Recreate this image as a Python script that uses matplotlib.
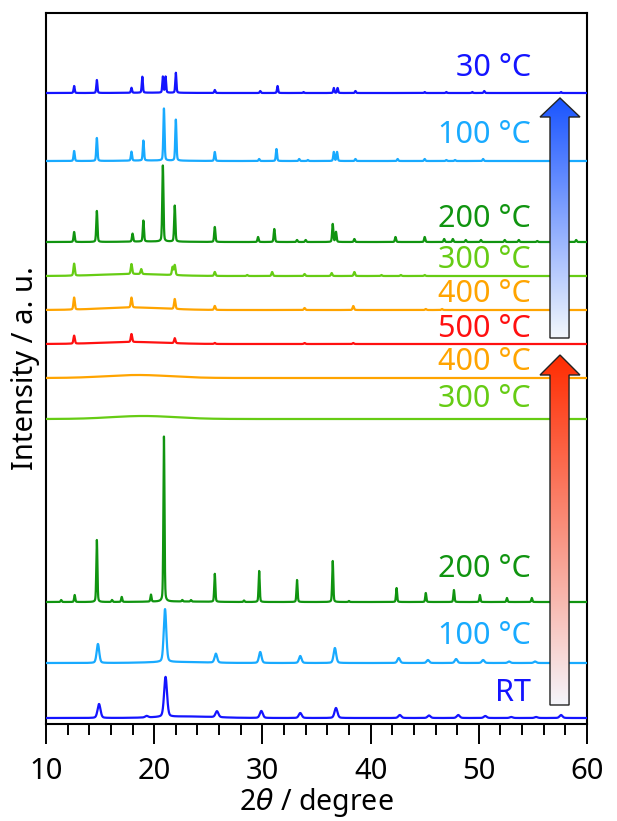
import numpy as np
import matplotlib
matplotlib.use("Agg")
import matplotlib.pyplot as plt
from matplotlib.patches import Polygon

plt.rcParams['font.family'] = ['Noto Sans', 'DejaVu Sans']
plt.rcParams['mathtext.fontset'] = 'dejavusans'

# ---------------- data (peak lists) ----------------
labels = ["RT", "100 °C", "200 °C", "300 °C", "400 °C", "500 °C",
          "400 °C", "300 °C", "200 °C", "100 °C", "30 °C"]
colors = ["#1414FF", "#18AAFF", "#109410", "#66CC14", "#FFA400", "#FF1010",
          "#FFA400", "#66CC14", "#109410", "#18AAFF", "#1414FF"]
offsets = [6, 61, 122, 305, 346, 380, 414, 448, 482, 563, 631]
label_y = [31, 88, 155, 325, 362, 395, 430, 464, 505, 589, 656]

peak_pos = [
    [14.9, 19.3, 21.05, 25.8, 29.9, 33.5, 36.8, 42.7, 45.4, 48.1, 50.6, 53.0, 55.3, 57.6],
    [14.8, 21.0, 25.7, 29.8, 33.5, 36.7, 42.6, 45.3, 47.9, 50.4, 52.8, 55.2],
    [11.4, 12.65, 14.7, 16.1, 17.0, 19.7, 20.9, 22.6, 23.4, 25.6, 28.3, 29.7, 33.2,
     36.5, 38.0, 42.4, 45.1, 47.7, 50.1, 52.6, 54.9],
    [],
    [],
    [12.6, 17.9, 21.9, 25.6, 33.9, 38.4],
    [12.6, 17.9, 21.9, 25.6, 33.9, 38.4, 45.1, 46.6],
    [12.6, 17.9, 18.8, 21.7, 21.9, 25.6, 28.6, 30.9, 33.9, 36.4, 38.5, 41.0, 42.8, 45.0],
    [12.6, 14.7, 18.0, 19.0, 20.8, 21.9, 25.6, 29.6, 31.1, 33.2, 34.0, 36.5, 36.8, 38.5,
     42.3, 45.0, 46.8, 47.6, 48.8, 50.2, 52.4, 53.7, 55.4, 59.0],
    [12.6, 14.7, 17.9, 19.0, 20.9, 22.0, 25.6, 29.7, 31.3, 33.4, 34.2, 36.6, 36.9, 38.6,
     42.5, 45.0, 47.0, 47.8, 50.4],
    [12.6, 14.7, 17.9, 18.9, 20.8, 21.05, 22.0, 25.6, 29.8, 31.4, 33.8, 36.6, 36.95,
     38.6, 45.0, 47.0, 49.4, 50.5, 57.6],
]
peak_height = [
    [14, 1.5, 40, 6, 7, 5, 10, 3, 2.5, 3, 2, 1, 1, 3],
    [19, 53, 9, 11, 7, 15, 5, 3, 4, 3, 1.5, 1.5],
    [2, 7, 62, 2, 5, 7, 165, 1.5, 1.5, 28, 1.5, 31, 22, 41, 1, 14, 9, 12, 7, 4, 4],
    [],
    [],
    [8, 8, 5, 1, 1, 1],
    [12, 10, 10, 4, 2, 4, 1, 1],
    [12, 10, 5, 8, 10, 4, 1, 4, 2, 3, 4, 1, 1, 1],
    [10, 31, 8, 21, 76, 36, 15, 5, 13, 2, 2, 18, 10, 3, 5, 5, 3, 3, 2, 2, 2, 2, 1, 2],
    [10, 23, 9, 20, 52, 41, 9, 2, 12, 2, 1, 9, 9, 2, 2, 2, 1, 1, 2],
    [7, 13, 5, 16, 16, 16, 20, 3, 2, 7, 1, 5, 5, 2, 1, 1, 1, 2, 1],
]
peak_fwhm = [0.32, 0.28, 0.12, 0.15, 0.15, 0.15, 0.15, 0.15, 0.13, 0.13, 0.12]
# broad amorphous hump: centre, height, width
hump_center = [23.0, 22.0, 22.0, 19.0, 18.5, 18.0, 18.0, 18.0, 20.0, 20.0, 20.0]
hump_height = [1.5, 1.0, 0.5, 3.0, 3.0, 2.0, 2.5, 2.0, 0.5, 0.5, 0.3]
hump_width = [6, 6, 6, 7, 7, 7, 7, 7, 6, 6, 6]

xticks_major = [10, 20, 30, 40, 50, 60]

# ---------------- figure ----------------
fig = plt.figure(figsize=(6.17, 8.21), dpi=100)
ax = fig.add_axes([46 / 617, 97 / 821, 541 / 617, 711 / 821])

x = np.linspace(10, 60, 5001)


def profile(pos, h, w):
    g = np.exp(-4 * np.log(2) * ((x - pos) / w) ** 2)
    l = 1.0 / (1 + 4 * ((x - pos) / w) ** 2)
    return h * (0.7 * g + 0.3 * l)


for i in range(len(labels)):
    y = np.full_like(x, float(offsets[i]))
    for p, h in zip(peak_pos[i], peak_height[i]):
        y += profile(p, h, peak_fwhm[i])
    y += hump_height[i] * np.exp(-4 * np.log(2) * ((x - hump_center[i]) / hump_width[i]) ** 2)
    ax.plot(x, y, color=colors[i], lw=1.6, zorder=3)
    ax.text(54.8, label_y[i], labels[i], color=colors[i], fontsize=22,
            ha='right', va='center', zorder=4)


def grad_arrow(ax, xl, xr, hl, hr, ybot, yhb, ytip, top_rgb, bot_rgb):
    verts = [(xl, ybot), (xr, ybot), (xr, yhb), (hr, yhb), ((hl + hr) / 2, ytip),
             (hl, yhb), (xl, yhb)]
    poly = Polygon(verts, closed=True, facecolor='none', edgecolor='#222222',
                   lw=1.0, zorder=6)
    ax.add_patch(poly)
    n = 256
    t = np.linspace(0, 1, n)[:, None]
    top = np.array(top_rgb)[None, :]
    bot = np.array(bot_rgb)[None, :]
    img = (bot * (1 - t) + top * t)[:, None, :]
    im = ax.imshow(img, extent=[hl, hr, ybot, ytip], origin='lower', aspect='auto',
                   zorder=5, interpolation='bilinear')
    im.set_clip_path(poly)


grad_arrow(ax, 56.58, 58.34, 55.66, 59.35, 386, 607, 626,
           (0.10, 0.33, 1.0), (0.95, 0.97, 0.99))
grad_arrow(ax, 56.58, 58.34, 55.66, 59.35, 19, 349, 369,
           (1.0, 0.17, 0.0), (0.96, 0.96, 0.98))

ax.set_xlim(10, 60)
ax.set_ylim(0, 711)
ax.set_yticks([])
ax.set_xticks(xticks_major)
ax.set_xticks(np.arange(10, 61, 2), minor=True)
ax.tick_params(axis='x', which='major', direction='out', length=14.5, width=1.4,
               labelsize=21, pad=9, top=False)
ax.tick_params(axis='x', which='minor', direction='out', length=8, width=1.4, top=False)
for s in ax.spines.values():
    s.set_linewidth(1.5)
ax.set_xlabel("2$\\it{\\theta}$ / degree", fontsize=20.5, labelpad=0)
ax.set_ylabel("Intensity / a. u.", fontsize=21, labelpad=4)

fig.savefig("out.png", dpi=100)
